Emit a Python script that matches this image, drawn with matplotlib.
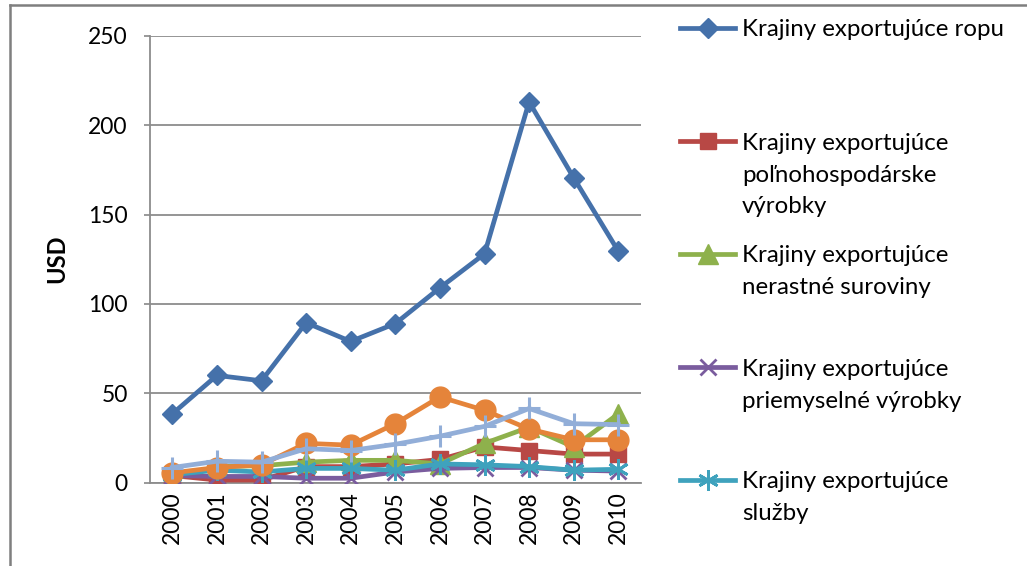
import matplotlib
matplotlib.use("Agg")
import matplotlib.pyplot as plt
from matplotlib.lines import Line2D

plt.rcParams['font.family'] = ['Lato', 'DejaVu Sans']

# údaje odčítané z grafu
roky = ['2000', '2001', '2002', '2003', '2004', '2005', '2006', '2007', '2008', '2009', '2010']
ropa = [38.5, 60, 57, 89.5, 79, 89, 109, 128, 213, 170.5, 129.5]
polnohosp = [4, 1.5, 1.5, 9, 9, 10.5, 13, 20, 18, 16, 16]
nerast = [2, 9, 9.5, 11.5, 12.5, 12.5, 10.5, 22, 31, 20, 38.5]
priemysel = [4, 3.5, 3.5, 2.5, 2.5, 6, 8, 8.5, 8.5, 7, 6.5]
sluzby = [4.5, 7, 6, 8, 8, 7, 10.5, 10, 9, 7, 7.5]
dalsie1 = [5.5, 8.5, 10, 22, 21, 33, 48, 40.5, 30, 24, 24]
dalsie2 = [8.5, 12, 11.5, 19, 18, 21.5, 26, 31.5, 41.5, 33, 32.5]

nazvy = ['Krajiny exportujúce ropu',
         'Krajiny exportujúce\npoľnohospodárske\nvýrobky',
         'Krajiny exportujúce\nnerastné suroviny',
         'Krajiny exportujúce\npriemyselné výrobky',
         'Krajiny exportujúce\nslužby']

fig = plt.figure(figsize=(10.27, 5.66), dpi=100)
ax = fig.add_axes([150 / 1027, 1 - 482.7 / 566, 490.6 / 1027, 447 / 566])

x = range(len(roky))
lw = 3.4
h1, = ax.plot(x, ropa, color='#4571AA', lw=lw, marker='D', ms=10.5, zorder=3)
h2, = ax.plot(x, polnohosp, color='#B84845', lw=lw, marker='s', ms=12, zorder=3)
h3, = ax.plot(x, nerast, color='#8EB14C', lw=lw, marker='^', ms=14, zorder=3)
h4, = ax.plot(x, priemysel, color='#7A5C9E', lw=lw, marker='x', ms=12, mew=2, zorder=3)
h5, = ax.plot(x, sluzby, color='#3FA2BD', lw=lw, marker=(6, 2, 0), ms=15, mew=2, zorder=3)
ax.plot(x, dalsie1, color='#E5843A', lw=lw, marker='o', ms=15, zorder=3)
ax.plot(x, dalsie2, color='#92AED8', lw=lw, marker='+', ms=16, mew=2.2, zorder=3)

ax.set_xlim(-0.5, len(roky) - 0.5)
ax.set_ylim(0, 250)
ax.set_yticks([0, 50, 100, 150, 200, 250])
ax.set_xticks(list(x))
ax.set_xticklabels(roky, rotation=90)
ax.tick_params(axis='both', labelsize=16.5, colors='#888888', labelcolor='black', length=4, width=1.2)
ax.tick_params(axis='y', pad=12)
ax.tick_params(axis='x', pad=6, length=0)
ax.grid(axis='y', color='#8C8C8C', lw=1.3)
ax.set_axisbelow(True)
for s in ['top', 'right']:
    ax.spines[s].set_visible(False)
for s in ['left', 'bottom']:
    ax.spines[s].set_color('#8C8C8C')
    ax.spines[s].set_linewidth(1.3)
ax.set_ylabel('USD', fontsize=17, fontweight='bold', labelpad=14)

# legenda – každá položka v samostatnom riadku
handles = [h1, h2, h3, h4, h5]
stredy = [30, 143, 256, 369, 482]
legs = []
for h, nazov, yc in zip(handles, nazvy, stredy):
    riadky = nazov.split('\n')
    leg = fig.legend(handles=[h], labels=[riadky[0]], loc='center left',
                     bbox_to_anchor=(680 / 1027, 1 - yc / 566), frameon=False,
                     fontsize=17.3, handlelength=2.3, handletextpad=0.27,
                     borderpad=0, borderaxespad=0)
    legs.append((leg, riadky, yc))

fig.canvas.draw()
for leg, riadky, yc in legs:
    tx = leg.get_texts()[0].get_window_extent().x0 / fig.bbox.width
    for k, r in enumerate(riadky[1:], start=1):
        fig.text(tx, 1 - (yc + 32 * k) / 566, r, fontsize=17.3, va='center', ha='left')

# rámček okolo grafu
fig.add_artist(Line2D([10 / 1027, 10 / 1027], [0, 1 - 5 / 566], transform=fig.transFigure,
                      color='#7F7F7F', lw=1.8))
fig.add_artist(Line2D([10 / 1027, 1], [1 - 5 / 566, 1 - 5 / 566], transform=fig.transFigure,
                      color='#7F7F7F', lw=1.8))

fig.savefig('out.png', dpi=100)
